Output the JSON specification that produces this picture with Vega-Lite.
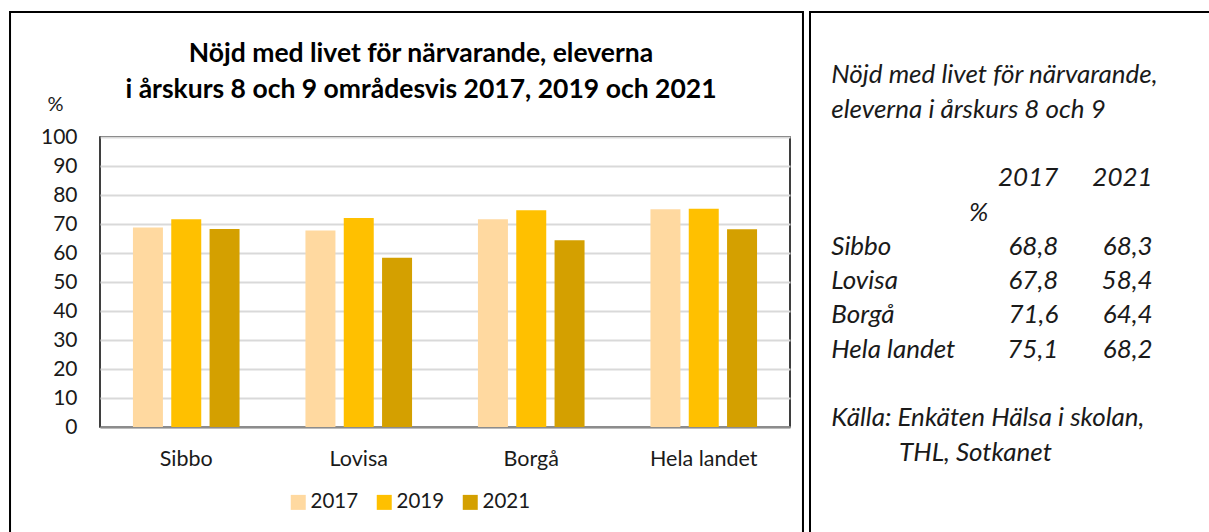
{
  "$schema": "https://vega.github.io/schema/vega-lite/v6.json",
  "background": "white",
  "padding": {"left": 8, "top": 10, "right": -3, "bottom": -3},
  "columns": 2,
  "align": "none",
  "bounds": "full",
  "spacing": 4,
  "resolve": {"scale": {"color": "independent"}, "legend": {"color": "independent"}},
  "config": {
    "font": "Lato",
    "view": {"stroke": null},
    "text": {"font": "Lato"}
  },
  "concat": [
    {
      "width": 690,
      "height": 290,
      "view": {"stroke": "#000", "strokeWidth": 1.5},
      "title": {
        "text": ["Nöjd med livet för närvarande, eleverna", "i årskurs 8 och 9 områdesvis 2017, 2019 och 2021"],
        "font": "Lato",
        "fontSize": 26.5,
        "fontWeight": "bold",
        "color": "#000",
        "lineHeight": 36,
        "anchor": "middle",
        "dx": -24,
        "offset": -92
      },
      "layer": [
        {
          "data": {
            "values": [
              {"region": "Sibbo", "year": "2017", "value": 68.8},
              {"region": "Sibbo", "year": "2019", "value": 71.6},
              {"region": "Sibbo", "year": "2021", "value": 68.3},
              {"region": "Lovisa", "year": "2017", "value": 67.8},
              {"region": "Lovisa", "year": "2019", "value": 72.1},
              {"region": "Lovisa", "year": "2021", "value": 58.4},
              {"region": "Borgå", "year": "2017", "value": 71.6},
              {"region": "Borgå", "year": "2019", "value": 74.7},
              {"region": "Borgå", "year": "2021", "value": 64.4},
              {"region": "Hela landet", "year": "2017", "value": 75.1},
              {"region": "Hela landet", "year": "2019", "value": 75.3},
              {"region": "Hela landet", "year": "2021", "value": 68.2}
            ]
          },
          "mark": {"type": "bar"},
          "encoding": {
            "x": {
              "field": "region",
              "type": "nominal",
              "sort": ["Sibbo", "Lovisa", "Borgå", "Hela landet"],
              "scale": {"paddingInner": 0.382, "paddingOuter": 0.191},
              "axis": {
                "title": null,
                "labelAngle": 0,
                "labelFont": "Lato",
                "labelFontSize": 21.5,
                "labelColor": "#1a1a1a",
                "ticks": false,
                "tickSize": 0,
                "labelPadding": 21,
                "domainColor": "#8c8c8c",
                "domainWidth": 2
              }
            },
            "xOffset": {
              "field": "year",
              "type": "nominal",
              "scale": {"paddingInner": 0.217, "paddingOuter": 0}
            },
            "y": {
              "field": "value",
              "type": "quantitative",
              "scale": {"domain": [0, 100], "nice": false},
              "axis": {
                "title": "%",
                "titleAngle": 0,
                "titleX": -45,
                "titleY": -33,
                "titleAlign": "center",
                "titleBaseline": "middle",
                "titleFont": "Lato",
                "titleFontSize": 20,
                "titleFontWeight": "normal",
                "titleColor": "#1a1a1a",
                "values": [0, 10, 20, 30, 40, 50, 60, 70, 80, 90, 100],
                "labelFont": "Lato",
                "labelFontSize": 21,
                "labelColor": "#1a1a1a",
                "labelPadding": 23,
                "ticks": false,
                "tickSize": 0,
                "domain": false,
                "grid": true,
                "gridColor": "#d9d9d9",
                "gridWidth": 2
              }
            },
            "color": {
              "field": "year",
              "type": "nominal",
              "scale": {"domain": ["2017", "2019", "2021"], "range": ["#FFD9A0", "#FFC000", "#D4A000"]},
              "legend": {
                "title": null,
                "orient": "none",
                "direction": "horizontal",
                "legendX": 188,
                "legendY": 355,
                "symbolType": "square",
                "symbolSize": 225,
                "symbolStrokeWidth": 0,
                "labelFont": "Lato",
                "labelFontSize": 20.5,
                "labelColor": "#1a1a1a",
                "labelOffset": 2,
                "columnPadding": 15
              }
            }
          }
        },
        {
          "data": {"values": [{}]},
          "mark": {"type": "rect", "filled": false, "color": "#000", "strokeWidth": 2},
          "encoding": {
            "x": {"datum": -0.1304, "type": "quantitative", "scale": {"domain": [0, 1], "nice": false, "zero": false}, "axis": null},
            "x2": {"datum": 1.0188},
            "y": {"datum": 1.431, "type": "quantitative", "scale": {"domain": [0, 1], "nice": false, "zero": false}, "axis": null},
            "y2": {"datum": -0.3655}
          }
        }
      ],
      "resolve": {"scale": {"x": "independent", "y": "independent"}, "axis": {"x": "independent", "y": "independent"}}
    },
    {
      "width": 399,
      "height": 290,
      "layer": [
        {
          "data": {"values": [{}]},
          "mark": {"type": "rect", "filled": false, "color": "#000", "strokeWidth": 2},
          "encoding": {
            "x": {"datum": 0, "type": "quantitative", "scale": {"domain": [0, 1], "nice": false, "zero": false}, "axis": null},
            "x2": {"datum": 1.01},
            "y": {"datum": 1.431, "type": "quantitative", "scale": {"domain": [0, 1], "nice": false, "zero": false}, "axis": null},
            "y2": {"datum": -0.3655}
          }
        },
        {
          "data": {
            "values": [
              {"line": "L1", "col": "lab", "text": "Nöjd med livet för närvarande,"},
              {"line": "L2", "col": "lab", "text": "eleverna i årskurs 8 och 9"},
              {"line": "L4", "col": "c2017", "text": "2017"},
              {"line": "L4", "col": "c2021", "text": "2021"},
              {"line": "L5", "col": "pct", "text": "%"},
              {"line": "L6", "col": "lab", "text": "Sibbo"},
              {"line": "L6", "col": "c2017", "text": "68,8"},
              {"line": "L6", "col": "c2021", "text": "68,3"},
              {"line": "L7", "col": "lab", "text": "Lovisa"},
              {"line": "L7", "col": "c2017", "text": "67,8"},
              {"line": "L7", "col": "c2021", "text": "58,4"},
              {"line": "L8", "col": "lab", "text": "Borgå"},
              {"line": "L8", "col": "c2017", "text": "71,6"},
              {"line": "L8", "col": "c2021", "text": "64,4"},
              {"line": "L9", "col": "lab", "text": "Hela landet"},
              {"line": "L9", "col": "c2017", "text": "75,1"},
              {"line": "L9", "col": "c2021", "text": "68,2"},
              {"line": "L11", "col": "lab", "text": "Källa: Enkäten Hälsa i skolan,"},
              {"line": "L12", "col": "ind", "text": "THL, Sotkanet"}
            ]
          },
          "encoding": {
            "x": {
              "field": "col",
              "type": "nominal",
              "scale": {"type": "point", "domain": ["lab", "ind", "pct", "c2017", "c2021"], "range": [-34.9, 342.7], "padding": 0},
              "axis": null
            },
            "y": {
              "field": "line",
              "type": "nominal",
              "scale": {"type": "point", "domain": ["L1", "L2", "L3", "L4", "L5", "L6", "L7", "L8", "L9", "L10", "L11", "L12"], "range": [-53.7, 323.7], "padding": 0},
              "axis": null
            },
            "text": {"field": "text", "type": "nominal"}
          },
          "layer": [
            {
              "transform": [{"filter": "datum.col === 'lab'"}],
              "mark": {"type": "text", "align": "left", "baseline": "alphabetic", "dx": 56.2, "font": "Lato", "fontStyle": "italic", "fontSize": 26, "color": "#1a1a1a"}
            },
            {
              "transform": [{"filter": "datum.col === 'ind'"}],
              "mark": {"type": "text", "align": "left", "baseline": "alphabetic", "dx": 29.5, "font": "Lato", "fontStyle": "italic", "fontSize": 26, "color": "#1a1a1a"}
            },
            {
              "transform": [{"filter": "datum.col === 'pct'"}],
              "mark": {"type": "text", "align": "center", "baseline": "alphabetic", "dx": 14.8, "font": "Lato", "fontStyle": "italic", "fontSize": 26, "color": "#1a1a1a"}
            },
            {
              "transform": [{"filter": "datum.col === 'c2017' || datum.col === 'c2021'"}],
              "mark": {"type": "text", "align": "right", "baseline": "alphabetic", "font": "Lato", "fontStyle": "italic", "fontSize": 26, "color": "#1a1a1a"}
            }
          ]
        }
      ],
      "resolve": {"scale": {"x": "independent", "y": "independent"}}
    }
  ]
}
